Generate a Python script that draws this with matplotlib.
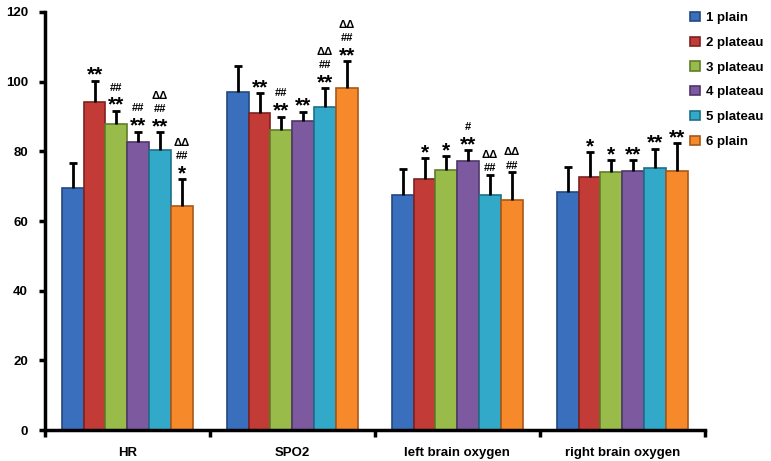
import matplotlib
matplotlib.use('Agg')
import matplotlib.pyplot as plt
import numpy as np

plt.rcParams['font.family'] = ['Liberation Sans', 'DejaVu Sans']
plt.rcParams['font.weight'] = 'bold'

categories = ['HR', 'SPO2', 'left brain oxygen', 'right brain oxygen']
series_names = ['1 plain', '2 plateau', '3 plateau', '4 plateau', '5 plateau', '6 plain']
colors = ['#3a6fbd', '#c23b36', '#98bb4a', '#7d5a9f', '#33a9c9', '#f68a2a']
edges = ['#24487e', '#7e2220', '#5f7d2a', '#4e3668', '#1e6f86', '#a8581a']

# mean values (one list per series, in category order)
plain1 = [69.4, 97.1, 67.6, 68.3]
plateau2 = [94.3, 91.0, 72.1, 72.7]
plateau3 = [87.8, 86.2, 74.6, 74.0]
plateau4 = [82.7, 88.6, 77.1, 74.3]
plateau5 = [80.3, 92.7, 67.6, 75.2]
plain6 = [64.3, 98.1, 66.1, 74.4]
means = [plain1, plateau2, plateau3, plateau4, plateau5, plain6]

# standard deviations (upper error bars only)
sd_plain1 = [7.2, 7.5, 7.4, 7.1]
sd_plateau2 = [6.0, 5.7, 6.0, 7.0]
sd_plateau3 = [3.9, 3.8, 4.0, 3.6]
sd_plateau4 = [3.0, 2.8, 3.2, 3.3]
sd_plateau5 = [5.2, 5.4, 5.7, 5.6]
sd_plain6 = [7.7, 7.8, 8.0, 8.0]
sds = [sd_plain1, sd_plateau2, sd_plateau3, sd_plateau4, sd_plateau5, sd_plain6]

# significance marks, listed bottom to top
marks = [
    [[], [], [], []],
    [['**'], ['**'], ['*'], ['*']],
    [['**', '##'], ['**', '##'], ['*'], ['*']],
    [['**', '##'], ['**'], ['**', '#'], ['**']],
    [['**', '##', 'ΔΔ'], ['**', '##', 'ΔΔ'], ['##', 'ΔΔ'], ['**']],
    [['*', '##', 'ΔΔ'], ['**', '##', 'ΔΔ'], ['##', 'ΔΔ'], ['**']],
]

fig = plt.figure(figsize=(7.71, 4.61), dpi=100)
ax = fig.add_axes([0.058, 0.067, 0.856, 0.907])

x = np.arange(len(categories))
n = len(series_names)
width = 0.132
handles = []
for i in range(n):
    pos = x + (i - (n - 1) / 2) * width
    b = ax.bar(pos, means[i], width, color=colors[i], edgecolor=edges[i],
               linewidth=1.2, label=series_names[i], zorder=2)
    handles.append(b)
    eb = ax.errorbar(pos, means[i], yerr=[np.zeros(len(x)), sds[i]], fmt='none',
                     ecolor='black', elinewidth=2, capsize=3, capthick=2, zorder=3)
    eb[1][0].set_visible(False)  # hide the lower cap
    for j in range(len(categories)):
        top = means[i][j] + sds[i][j]
        off = 1
        for m in marks[i][j]:
            if '*' in m:
                ax.annotate(m, xy=(pos[j], top), xytext=(0, off - 4),
                            textcoords='offset points', ha='center', va='bottom',
                            fontsize=15, fontweight='bold')
                off += 12
            else:
                ax.annotate(m, xy=(pos[j], top), xytext=(0, off),
                            textcoords='offset points', ha='center', va='bottom',
                            fontsize=8, fontweight='bold')
                off += 9.5

ax.set_xlim(-0.5, len(categories) - 0.5)
ax.set_ylim(0, 120)
ax.set_yticks(np.arange(0, 121, 20))
ax.set_xticks(np.arange(len(categories) + 1) - 0.5)
ax.set_xticklabels([])
ax.set_xticks(x, minor=True)
ax.set_xticklabels(categories, minor=True)
ax.tick_params(axis='x', which='minor', length=0, pad=12, labelsize=9.5)
ax.tick_params(axis='x', which='major', length=5, width=2.5, direction='out')
ax.tick_params(axis='y', length=4, width=2.5, labelsize=9.5, pad=8)
for lab in ax.get_xticklabels(minor=True) + ax.get_yticklabels():
    lab.set_fontweight('bold')
for s in ['top', 'right']:
    ax.spines[s].set_visible(False)
for s in ['left', 'bottom']:
    ax.spines[s].set_linewidth(2.5)

fig.legend(handles=handles, labels=series_names, loc='upper left',
           bbox_to_anchor=(0.88, 1.0), frameon=False, handlelength=0.7,
           handleheight=0.7, handletextpad=0.5, labelspacing=0.95,
           prop={'weight': 'bold', 'size': 9.5})

fig.savefig('out.png', dpi=100)
